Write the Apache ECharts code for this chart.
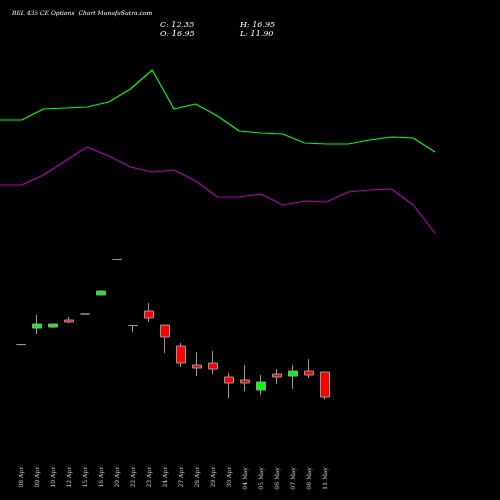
<!DOCTYPE html>
<html><head><meta charset="utf-8">
<script src="https://cdn.jsdelivr.net/npm/echarts@6/dist/echarts.min.js"></script>
<style>html,body{margin:0;background:#000}#c{width:500px;height:500px}</style>
</head><body><div id="c"></div>
<script>
const categories=['08 Apr','09 Apr','10 Apr','12 Apr','15 Apr','16 Apr','20 Apr','22 Apr','23 Apr','24 Apr','27 Apr','28 Apr','29 Apr','30 Apr','04 May','05 May','06 May','07 May','08 May','11 May'];
// [open, close, low, high]
const ohlc=[
[22.0,22.0,22.0,22.0],[25.05,25.79,23.95,27.45],[25.23,25.79,25.05,25.8],[26.53,26.16,25.97,27.08],
[27.63,27.63,27.63,27.63],[31.13,31.87,31.1,31.9],[37.67,37.67,37.67,37.67],[25.51,25.51,24.32,25.51],
[28.18,26.89,26.16,29.66],[25.6,23.4,20.45,25.6],[21.74,18.61,17.87,22.29],[18.24,17.69,16.21,20.63],
[18.61,17.5,16.58,20.82],[16.03,14.92,12.16,16.77],[15.48,14.92,13.45,18.24],[13.64,15.11,12.71,16.4],
[16.58,16.03,14.74,17.5],[16.21,17.13,13.82,18.24],[17.13,16.4,15.85,19.34],[16.95,12.35,11.9,16.95]];
const greenLine=[380,380,391,392,393,398,411,430,391,396,384,369,367,366,357,356,356,360,363,362,348];
const purpleLine=[315,315,325,339,353,344,333,328,330,319,303,303,306,295,299,298,308,310,311,295,267];
const lineIdx=greenLine.map((_,i)=>i);
const chart=echarts.init(document.getElementById('c'));
chart.setOption({
backgroundColor:'#000',animation:false,
graphic:[
{type:'text',left:12,top:10,style:{text:'BEL 435 CE Options  Chart MunafaSutra.com',fill:'#fff',font:'italic 6px "DejaVu Serif"'}},
{type:'text',left:160,top:20,style:{text:'C: 12.35\nO: 16.95',fill:'#fff',font:'italic 8px "DejaVu Serif"',lineHeight:9}},
{type:'text',left:240,top:20,style:{text:'H: 16.95\nL: 11.90',fill:'#fff',font:'italic 8px "DejaVu Serif"',lineHeight:9}}
],
grid:[{left:13,width:320,top:0,height:450},{left:0,width:435,top:0,height:500}],
xAxis:[
{type:'category',data:categories,gridIndex:0,axisLine:{show:false},axisTick:{show:false},
 axisLabel:{rotate:90,color:'#ccc',fontSize:6,fontFamily:'DejaVu Serif',margin:17,interval:0}},
{type:'value',gridIndex:1,min:0,max:20,show:false}],
yAxis:[
{type:'value',gridIndex:0,min:2.59,max:85.46,show:false},
{type:'value',gridIndex:1,min:0,max:500,show:false}],
series:[
{type:'candlestick',data:ohlc,xAxisIndex:0,yAxisIndex:0,barWidth:10,
 itemStyle:{color:'#00ff00',color0:'#ff0000',borderColor:'#999',borderColor0:'#999',borderWidth:1}},
{type:'line',data:lineIdx.map(i=>[i,greenLine[i]]),xAxisIndex:1,yAxisIndex:1,symbol:'none',lineStyle:{color:'#00ff00',width:1.2}},
{type:'line',data:lineIdx.map(i=>[i,purpleLine[i]]),xAxisIndex:1,yAxisIndex:1,symbol:'none',lineStyle:{color:'#b000b0',width:1.2}}
]});
</script></body></html>
